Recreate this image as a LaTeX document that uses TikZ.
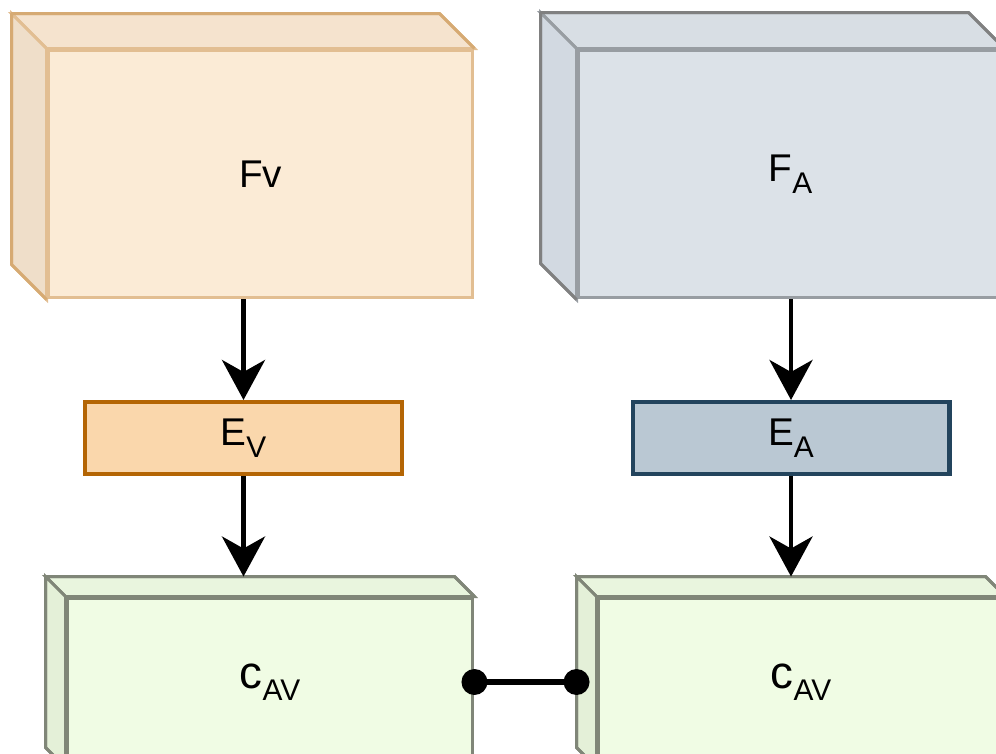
\documentclass[tikz,border=0pt]{standalone}
\usepackage{fontspec}
\setmainfont{Liberation Sans}
\usetikzlibrary{arrows.meta}
\definecolor{vfront}{RGB}{251,235,214}
\definecolor{vtop}{RGB}{245,227,206}
\definecolor{vside}{RGB}{239,222,201}
\definecolor{vline}{RGB}{214,170,115}
\definecolor{vinner}{RGB}{226,190,146}
\definecolor{afront}{RGB}{220,226,232}
\definecolor{atop}{RGB}{216,222,228}
\definecolor{aside}{RGB}{210,217,225}
\definecolor{aline}{RGB}{128,128,128}
\definecolor{ainner}{RGB}{152,157,162}
\definecolor{evfill}{RGB}{250,215,172}
\definecolor{evline}{RGB}{180,101,4}
\definecolor{eafill}{RGB}{186,200,211}
\definecolor{ealine}{RGB}{35,68,93}
\definecolor{cfront}{RGB}{240,252,228}
\definecolor{ctop}{RGB}{233,245,222}
\definecolor{cside}{RGB}{228,240,216}
\definecolor{cline}{RGB}{128,134,120}

\newcommand{\lowsub}[1]{\raisebox{-6.5pt}{\fontsize{17}{20}\selectfont #1}}

% top and left faces behind a front node: node, depth, top, side, outline, inner line
\newcommand{\boxback}[6]{%
  \filldraw[fill=#3, draw=#6, line width=1.7pt] (#1.north west) -- ([shift={(-#2,-#2)}]#1.north west) -- ([shift={(-#2,-#2)}]#1.north east) -- (#1.north east) -- cycle;
  \filldraw[fill=#4, draw=#6, line width=1.7pt] (#1.north west) -- ([shift={(-#2,-#2)}]#1.north west) -- ([shift={(-#2,-#2)}]#1.south west) -- (#1.south west) -- cycle;
  \draw[#5, line width=1.7pt, line join=round] (#1.south west) -- ([shift={(-#2,-#2)}]#1.south west) -- ([shift={(-#2,-#2)}]#1.north west) -- ([shift={(-#2,-#2)}]#1.north east) -- (#1.north east);
}

\tikzset{
  facebox/.style={draw, inner sep=0pt, line width=1.7pt, font=\fontsize{22}{26}\selectfont},
  embed/.style={draw, inner sep=0pt, line width=2.3pt, minimum width=6.34cm, minimum height=1.44cm, font=\fontsize{22}{26}\selectfont},
  flow/.style={-{Stealth[length=0.8cm, width=0.86cm, inset=0.24cm]}, line width=2.6pt},
  link/.style={line width=3pt},
}

\begin{document}
\begin{tikzpicture}[x=0.02cm, y=-0.02cm]
    \useasboundingbox (0,0) rectangle (996,753);
    \clip (0,0) rectangle (996,753);

    % feature blocks
    \node[facebox, fill=vfront, draw=vinner, minimum width=8.5cm, minimum height=4.96cm] (fv) at (260.5,174) {Fv};
    \boxback{fv}{35}{vtop}{vside}{vline}{vinner}
    \node[facebox, fill=afront, draw=ainner, minimum width=8.5cm, minimum height=4.96cm] (fa) at (790.5,174) {F\lowsub{A}};
    \boxback{fa}{36}{atop}{aside}{aline}{ainner}

    % encoders
    \node[embed, fill=evfill, draw=evline] (ev) at (243.5,438) {E\lowsub{V}};
    \node[embed, fill=eafill, draw=ealine] (ea) at (791,438) {E\lowsub{A}};

    % common space blocks
    \node[facebox, fill=cfront, draw=cline, minimum width=8.12cm, minimum height=3.36cm] (cl) at (270,682) {{\fontsize{26}{30}\selectfont c}\lowsub{AV}};
    \boxback{cl}{20}{ctop}{cside}{cline}{cline}
    \node[facebox, fill=cfront, draw=cline, minimum width=8.12cm, minimum height=3.36cm] (cr) at (801,682) {{\fontsize{26}{30}\selectfont c}\lowsub{AV}};
    \boxback{cr}{20}{ctop}{cside}{cline}{cline}
    \coordinate (cl-top) at ([shift={(0,-20)}]cl.north);
    \coordinate (cr-top) at ([shift={(0,-20)}]cr.north);
    \coordinate (cr-side) at ([shift={(-20,0)}]cr.west);

    \draw[flow] (ev |- fv.south) -- (ev.north);
    \draw[flow] (ev.south) -- (ev |- cl-top);
    \draw[flow] (ea |- fa.south) -- (ea.north);
    \draw[flow] (ea.south) -- (ea |- cr-top);

    \draw[link] (cl.east) -- (cr-side);
    \fill (cl.east) circle[radius=0.26cm];
    \fill (cr-side) circle[radius=0.26cm];
\end{tikzpicture}
\end{document}
